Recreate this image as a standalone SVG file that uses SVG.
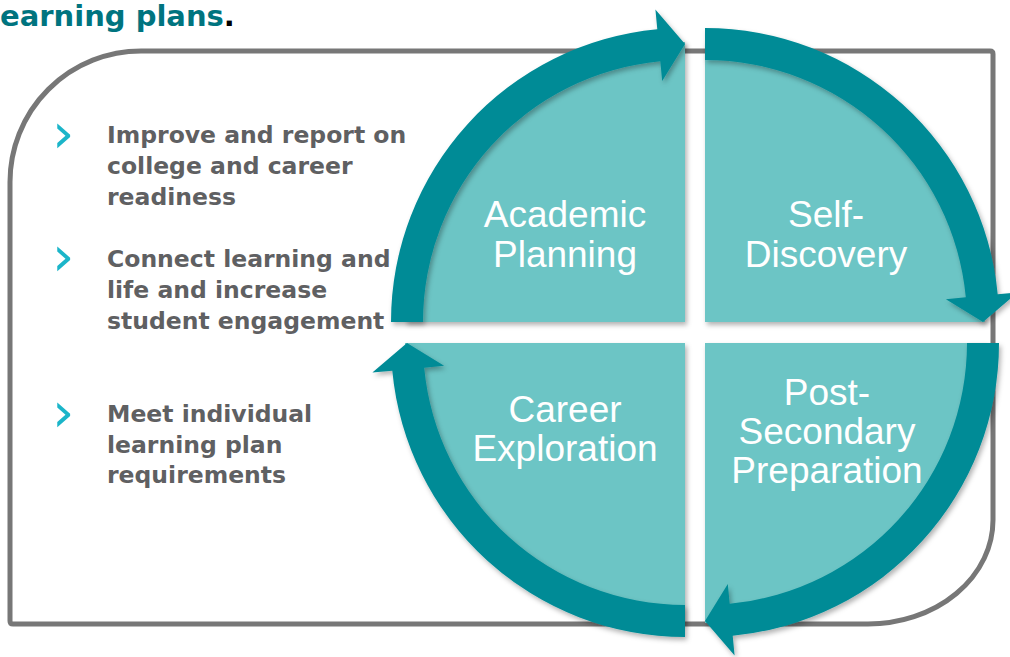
<svg xmlns="http://www.w3.org/2000/svg" width="1010" height="657" viewBox="0 0 1010 657">
<style>
.title{font-family:"DejaVu Sans",Verdana,sans-serif;font-weight:bold;font-size:29px;fill:#00747F}
.bul{font-family:"DejaVu Sans",Verdana,sans-serif;font-weight:bold;font-size:23.5px;fill:#5F6062}
.chev{font-family:"DejaVu Sans",sans-serif;font-weight:normal;font-size:56px;fill:#1BB5C9}
.lbl{font-family:"Liberation Sans",Arial,sans-serif;font-size:37px;fill:#FFFFFF;text-anchor:middle}
.quad{fill:#6CC5C5;filter:url(#sh)}
.ring{fill:#008B96;filter:url(#sh)}
.frame{fill:none;stroke:#777777;stroke-width:5}
</style>
<defs>
<filter id="sh" x="-10%" y="-10%" width="120%" height="120%">
<feDropShadow dx="2" dy="3" stdDeviation="2.5" flood-color="#000" flood-opacity="0.3"/>
</filter>
</defs>
<rect width="1010" height="657" fill="#FFFFFF"/>
<text x="0" y="26" class="title">earning plans<tspan fill="#000">.</tspan></text>
<path class="frame" d="M10,182 A131,131 0 0 1 141,51 H990 Q993,51 993,54 V520 A125,104 0 0 1 868,624 H13 Q10,624 10,621 Z"/>
<g id="bullets">
<text x="52" y="152" class="chev">›</text>
<text class="bul"><tspan x="107" y="143">Improve and report on</tspan><tspan x="107" y="174">college and career</tspan><tspan x="107" y="205">readiness</tspan></text>
<text x="52" y="275" class="chev">›</text>
<text class="bul"><tspan x="107" y="267">Connect learning and</tspan><tspan x="107" y="298">life and increase</tspan><tspan x="107" y="329">student engagement</tspan></text>
<text x="52" y="431" class="chev">›</text>
<text class="bul"><tspan x="107" y="422">Meet individual</tspan><tspan x="107" y="452.5">learning plan</tspan><tspan x="107" y="483">requirements</tspan></text>
</g>
<g id="academic-planning">
<path class="quad" d="M685,322 L405,322 A280,280 0 0 1 685,42 Z"/>
<text class="lbl"><tspan x="565" y="227">Academic</tspan><tspan x="565" y="267">Planning</tspan></text>
</g>
<g id="self-discovery">
<path class="quad" d="M705,322 L705,42 A280,280 0 0 1 985,322 Z"/>
<text class="lbl"><tspan x="826" y="227">Self-</tspan><tspan x="826" y="267">Discovery</tspan></text>
</g>
<g id="post-secondary">
<path class="quad" d="M705,343 L985,343 A280,280 0 0 1 705,623 Z"/>
<text class="lbl"><tspan x="827" y="405">Post-</tspan><tspan x="827" y="444">Secondary</tspan><tspan x="827" y="483">Preparation</tspan></text>
</g>
<g id="career-exploration">
<path class="quad" d="M685,343 L685,623 A280,280 0 0 1 405,343 Z"/>
<text class="lbl"><tspan x="565" y="422">Career</tspan><tspan x="565" y="461">Exploration</tspan></text>
</g>
<g id="connectors">
<path class="ring" d="M391,322 A294,294 0 0 1 657.3,29.3 L655.4,9.4 L685,44 L662.2,81.1 L660.3,61.2 A262,262 0 0 0 423,322 Z"/>
<path class="ring" d="M705,28 A294,294 0 0 1 997.7,294.3 L1017.6,292.4 L983,322 L945.9,299.2 L965.8,297.3 A262,262 0 0 0 705,60 Z"/>
<path class="ring" d="M999,343 A294,294 0 0 1 732.7,635.7 L734.6,655.6 L705,621 L727.8,583.9 L729.7,603.8 A262,262 0 0 0 967,343 Z"/>
<path class="ring" d="M685,637 A294,294 0 0 1 392.3,370.7 L372.4,372.6 L407,343 L444.1,365.8 L424.2,367.7 A262,262 0 0 0 685,605 Z"/>
</g>
</svg>
